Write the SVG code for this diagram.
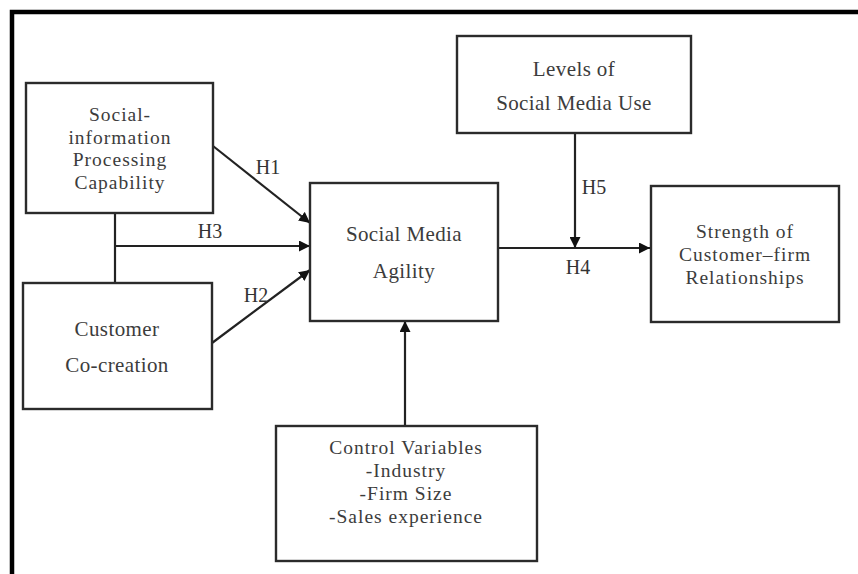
<svg xmlns="http://www.w3.org/2000/svg" width="858" height="574" viewBox="0 0 858 574">
  <style>
    .box { fill: #ffffff; stroke: #2b2b2b; stroke-width: 2.4; }
    .lbl { font-family: "Liberation Serif", "Times New Roman", serif; font-size: 21px; letter-spacing: 0.4px; fill: #3c3c3c; text-anchor: middle; }
    .tight { font-size: 19.5px; letter-spacing: 1px; }
    .hyp { font-family: "Liberation Serif", "Times New Roman", serif; font-size: 20px; fill: #333333; text-anchor: middle; }
    .edge { fill: none; stroke: #222222; stroke-width: 2.2; }
  </style>
  <defs>
    <marker id="arrow" viewBox="0 0 10 10" refX="10" refY="5" markerWidth="5" markerHeight="5" markerUnits="strokeWidth" orient="auto">
      <path d="M0,0 L10,5 L0,10 z" fill="#111111"/>
    </marker>
  </defs>

  <rect x="0" y="0" width="858" height="574" fill="#ffffff"/>
  <!-- frame: top and left edges -->
  <path d="M12,574 L12,12 L858,12" fill="none" stroke="#000000" stroke-width="4.5"/>

  <g id="connectors">
    <line class="edge" x1="115" y1="213" x2="115" y2="283"/>
    <line class="edge" x1="115" y1="246" x2="310" y2="246" marker-end="url(#arrow)"/>
    <line class="edge" x1="213" y1="146" x2="310" y2="223" marker-end="url(#arrow)"/>
    <line class="edge" x1="212" y1="343" x2="310" y2="270" marker-end="url(#arrow)"/>
    <line class="edge" x1="498" y1="248" x2="650" y2="248" marker-end="url(#arrow)"/>
    <line class="edge" x1="575" y1="133" x2="575" y2="248" marker-end="url(#arrow)"/>
    <line class="edge" x1="405" y1="426" x2="405" y2="321" marker-end="url(#arrow)"/>
    <text class="hyp" x="268" y="174">H1</text>
    <text class="hyp" x="210" y="238">H3</text>
    <text class="hyp" x="256" y="302">H2</text>
    <text class="hyp" x="594" y="194">H5</text>
    <text class="hyp" x="578" y="274">H4</text>
  </g>

  <g id="social-information">
    <rect class="box" x="26" y="83" width="187" height="130"/>
    <text class="lbl tight" x="120" y="121">Social-</text>
    <text class="lbl tight" x="120" y="143.5">information</text>
    <text class="lbl tight" x="120" y="166">Processing</text>
    <text class="lbl tight" x="120" y="188.5">Capability</text>
  </g>

  <g id="customer-cocreation">
    <rect class="box" x="23" y="283" width="189" height="126"/>
    <text class="lbl" x="117" y="336">Customer</text>
    <text class="lbl" x="117" y="372">Co-creation</text>
  </g>

  <g id="social-media-agility">
    <rect class="box" x="310" y="183" width="188" height="138"/>
    <text class="lbl" x="404" y="241">Social Media</text>
    <text class="lbl" x="404" y="278">Agility</text>
  </g>

  <g id="levels-of-use">
    <rect class="box" x="457" y="36" width="234" height="97"/>
    <text class="lbl" x="574" y="76">Levels of</text>
    <text class="lbl" x="574" y="110">Social Media Use</text>
  </g>

  <g id="relationship-strength">
    <rect class="box" x="651" y="186" width="188" height="136"/>
    <text class="lbl tight" x="745" y="238">Strength of</text>
    <text class="lbl tight" x="745" y="261">Customer–firm</text>
    <text class="lbl tight" x="745" y="284">Relationships</text>
  </g>

  <g id="control-variables">
    <rect class="box" x="276" y="426" width="261" height="135"/>
    <text class="lbl tight" x="406" y="454">Control Variables</text>
    <text class="lbl tight" x="406" y="477">-Industry</text>
    <text class="lbl tight" x="406" y="500">-Firm Size</text>
    <text class="lbl tight" x="406" y="523">-Sales experience</text>
  </g>
</svg>
